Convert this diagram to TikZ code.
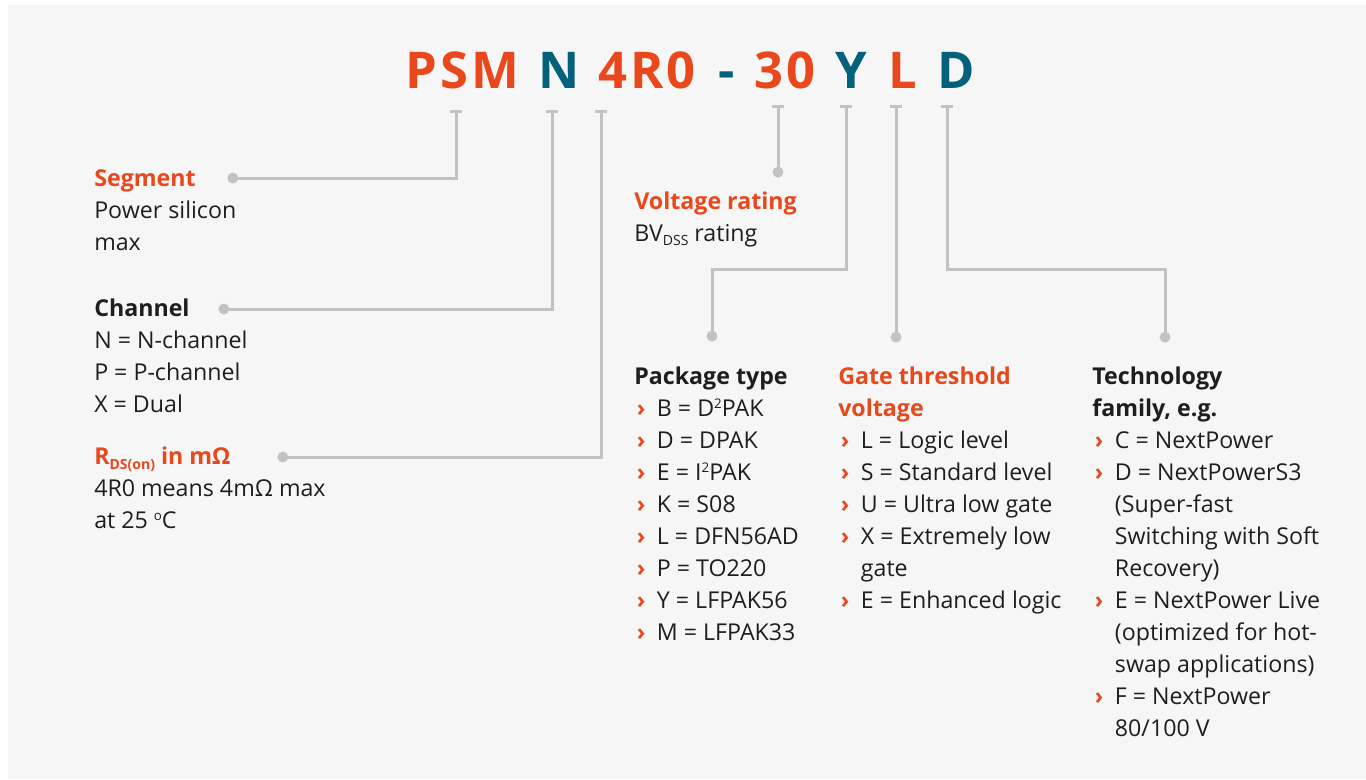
\documentclass[tikz,border=0pt]{standalone}
\usepackage{fontspec}
\setmainfont{Open Sans}
\usepackage{xcolor}
\usetikzlibrary{arrows.meta}
\definecolor{segOrange}{HTML}{E8481C}
\definecolor{segTeal}{HTML}{04617B}
\definecolor{leadGrey}{HTML}{C2C2C2}
\definecolor{panelGrey}{HTML}{F6F6F6}
\definecolor{bodyInk}{HTML}{1E1E1E}
\newcommand{\pick}{\makebox[17pt][l]{\hspace{2pt}\textcolor{segOrange}{\bfseries ›}}}
\newcommand{\goon}{\hspace*{17pt}}
\newcommand{\hd}[1]{\textcolor{segOrange}{\bfseries #1}}
\newcommand{\hk}[1]{\textbf{#1}}
\newcommand{\up}[1]{\raisebox{0.62ex}{\fontsize{10}{10}\selectfont #1}}
\newcommand{\dn}[1]{\raisebox{-0.4ex}{\fontsize{10.5}{10}\selectfont #1}}

\begin{document}
\begin{tikzpicture}[x=0.75pt, y=-0.75pt,
    title/.style={font=\fontsize{38}{38}\selectfont\bfseries\addfontfeature{LetterSpace=6}, inner sep=0, anchor=base},
    block/.style={font=\fontsize{17.4}{24}\selectfont, text=bodyInk, align=left, inner sep=0, anchor=base west},
    lead/.style={leadGrey, line width=2.25pt, {Bar[width=9pt]}-{Circle[length=8pt]}}]
    \useasboundingbox (0,0) rectangle (1366,779);
    \fill[white] (0,0) rectangle (1366,779);
    \fill[panelGrey] (8,5) rectangle (1366,779);

    % part number
    \node[title, segOrange] (t-psm) at (462,88) {PSM};
    \node[title, segTeal] (t-n) at (559,88) {N};
    \node[title, segOrange] (t-rdson) at (647,88) {4R0};
    \node[title, segTeal] (t-dash) at (727,88) {-};
    \node[title, segOrange] (t-volt) at (785,88) {30};
    \node[title, segTeal] (t-pack) at (851,88) {Y};
    \node[title, segOrange] (t-gate) at (903,88) {L};
    \node[title, segTeal] (t-tech) at (956,88) {D};

    % left column (placed by the baseline of the last line)
    \node[block] (segment) at (94,250) {\hd{Segment}\\Power silicon\\max};
    \node[block] (channel) at (94,412) {\hk{Channel}\\N = N-channel\\P = P-channel\\X = Dual};
    \node[block] (rdson) at (94,528) {\hd{R\dn{DS(on)} in mΩ}\\4R0 means 4mΩ max\\at 25 \up{o}C};

    % middle and right columns
    \node[block] (voltage) at (634,241) {\hd{Voltage rating}\\BV\dn{DSS} rating};
    \node[block] (package) at (634,640) {\hk{Package type}\\
        \pick B = D\up{2}PAK\\
        \pick D = DPAK\\
        \pick E = I\up{2}PAK\\
        \pick K = S08\\
        \pick L = DFN56AD\\
        \pick P = TO220\\
        \pick Y = LFPAK56\\
        \pick M = LFPAK33};
    \node[block] (gate) at (838,608) {\hd{Gate threshold}\\\hd{voltage}\\
        \pick L = Logic level\\
        \pick S = Standard level\\
        \pick U = Ultra low gate\\
        \pick X = Extremely low\\
        \goon gate\\
        \pick E = Enhanced logic};
    \node[block] (techno) at (1092,736) {\hk{Technology}\\\hk{family, e.g.}\\
        \pick C = NextPower\\
        \pick D = NextPowerS3\\
        \goon (Super-fast\\
        \goon Switching with Soft\\
        \goon Recovery)\\
        \pick E = NextPower Live\\
        \goon (optimized for hot-\\
        \goon swap applications)\\
        \pick F = NextPower\\
        \goon 80/100 V};

    % leader ends
    \coordinate (psm-t) at (456,110);
    \coordinate (n-t) at (552,110);
    \coordinate (rdson-t) at (601,110);
    \coordinate (volt-t) at (778,105);
    \coordinate (pack-t) at (846,105);
    \coordinate (gate-t) at (896,105);
    \coordinate (tech-t) at (947,105);
    \coordinate (segment-dot) at (227.5,178);
    \coordinate (channel-dot) at (218.5,309);
    \coordinate (rdson-dot) at (277.5,457);
    \coordinate (voltage-dot) at (778,177.5);
    \coordinate (package-dot) at (712,341.5);
    \coordinate (gate-dot) at (896,342.5);
    \coordinate (techno-dot) at (1165,342.5);

    \draw[lead] (psm-t) |- (segment-dot);
    \draw[lead] (n-t) |- (channel-dot);
    \draw[lead] (rdson-t) |- (rdson-dot);
    \draw[lead] (volt-t) -- (voltage-dot);
    \draw[lead] (pack-t) -- ++(0,164) -| (package-dot);
    \draw[lead] (gate-t) -- (gate-dot);
    \draw[lead] (tech-t) -- ++(0,164) -| (techno-dot);
\end{tikzpicture}
\end{document}
